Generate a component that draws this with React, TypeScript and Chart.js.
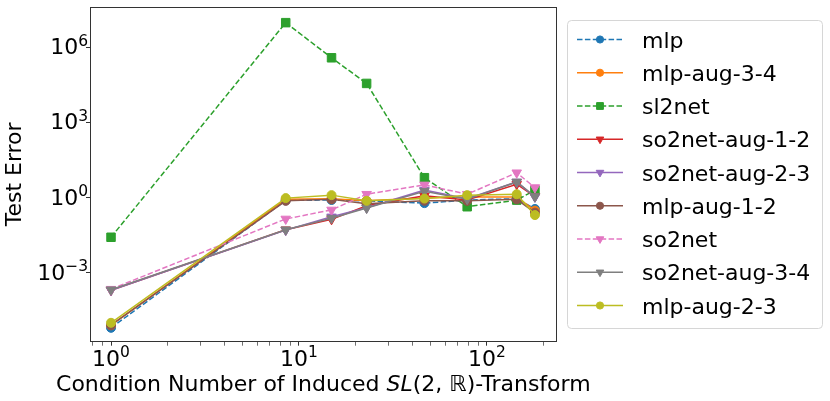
import { useEffect, useRef } from "react"
import { Chart, registerables } from "chart.js"

Chart.register(...registerables)

// condition number of each transform (x)
const conditionNumbers = [1, 8.5, 14.9, 22.9, 46.5, 78.5, 144, 180]

// test error per model (y, log scale)
const mlp = [6.3e-6, 0.77, 0.8, 0.74, 0.6, 0.79, 0.9, 0.35]
const mlpAug34 = [8e-6, 0.85, 0.89, 0.74, 0.97, 1.05, 1.05, 0.3]
const sl2net = [0.026, 9.6e6, 3.8e5, 3.6e4, 6.2, 0.43, 0.79, 1.97]
const so2netAug12 = [2e-4, 0.052, 0.135, 0.47, 1.17, 0.8, 3.4, 1.1]
const so2netAug23 = [2e-4, 0.05, 0.17, 0.39, 2.0, 0.9, 4.2, 1.05]
const mlpAug12 = [8e-6, 0.74, 0.85, 0.56, 0.74, 0.74, 0.85, 0.25]
const so2net = [2.2e-4, 0.14, 0.32, 1.36, 3.2, 1.36, 9.8, 2.5]
const so2netAug34 = [2.1e-4, 0.052, 0.15, 0.38, 1.8, 0.86, 4.2, 1.1]
const mlpAug23 = [1e-5, 0.95, 1.25, 0.74, 0.91, 1.25, 1.36, 0.2]

const yTickValues = [1e-3, 1, 1e3, 1e6]
const xTickValues = [0.8, 0.9, 1, 2, 3, 4, 5, 6, 7, 8, 9, 10, 20, 30, 40, 50, 60, 70, 80, 90, 100, 200]

type Marker = "circle" | "rect" | "triangle"

const series: { label: string; data: number[]; color: string; dashed: boolean; marker: Marker }[] = [
  { label: "mlp", data: mlp, color: "#1f77b4", dashed: true, marker: "circle" },
  { label: "mlp-aug-3-4", data: mlpAug34, color: "#ff7f0e", dashed: false, marker: "circle" },
  { label: "sl2net", data: sl2net, color: "#2ca02c", dashed: true, marker: "rect" },
  { label: "so2net-aug-1-2", data: so2netAug12, color: "#d62728", dashed: false, marker: "triangle" },
  { label: "so2net-aug-2-3", data: so2netAug23, color: "#9467bd", dashed: false, marker: "triangle" },
  { label: "mlp-aug-1-2", data: mlpAug12, color: "#8c564b", dashed: false, marker: "circle" },
  { label: "so2net", data: so2net, color: "#e377c2", dashed: true, marker: "triangle" },
  { label: "so2net-aug-3-4", data: so2netAug34, color: "#7f7f7f", dashed: false, marker: "triangle" },
  { label: "mlp-aug-2-3", data: mlpAug23, color: "#bcbd22", dashed: false, marker: "circle" },
]

const FONT = "DejaVu Sans"
const DASH = [5.5, 2.4]

function powerOf(v: number): number | null {
  const e = Math.log10(v)
  if (Math.abs(e - Math.round(e)) > 1e-9) return null
  return Math.round(e)
}

// draws "10" with a raised exponent, like matplotlib's mathtext
function drawPower(ctx: CanvasRenderingContext2D, exp: number, x: number, baseY: number, align: "right" | "center") {
  const base = "10"
  const sup = exp < 0 ? "\u2212" + String(-exp) : String(exp)
  ctx.font = `22px "${FONT}"`
  const wb = ctx.measureText(base).width
  ctx.font = `15.5px "${FONT}"`
  const ws = ctx.measureText(sup).width
  const total = wb + ws
  const left = align === "right" ? x - total : x - total / 2
  ctx.fillStyle = "#000000"
  ctx.textAlign = "left"
  ctx.textBaseline = "alphabetic"
  ctx.font = `22px "${FONT}"`
  ctx.fillText(base, left, baseY)
  ctx.font = `15.5px "${FONT}"`
  ctx.fillText(sup, left + wb, baseY - 8.5)
}

function markerRadius(m: Marker) {
  if (m === "rect") return 6
  if (m === "triangle") return 5.5
  return 4.5
}

function drawMarker(ctx: CanvasRenderingContext2D, m: Marker, x: number, y: number, r: number, color: string) {
  ctx.save()
  ctx.setLineDash([])
  ctx.fillStyle = color
  ctx.strokeStyle = color
  ctx.lineWidth = 1
  ctx.beginPath()
  if (m === "circle") {
    ctx.arc(x, y, r, 0, Math.PI * 2)
  } else if (m === "rect") {
    const s = r / Math.SQRT2
    ctx.rect(x - s, y - s, 2 * s, 2 * s)
  } else {
    ctx.moveTo(x, y + r)
    ctx.lineTo(x - r * 0.866, y - r * 0.5)
    ctx.lineTo(x + r * 0.866, y - r * 0.5)
    ctx.closePath()
  }
  ctx.fill()
  ctx.stroke()
  ctx.restore()
}

const decorations = {
  id: "decorations",
  afterDraw(chart: Chart) {
    const ctx = chart.ctx
    const a = chart.chartArea
    ctx.save()

    // axes frame
    ctx.strokeStyle = "#333333"
    ctx.lineWidth = 1
    ctx.strokeRect(Math.round(a.left) + 0.5, Math.round(a.top) + 0.5, Math.round(a.right - a.left) - 1, Math.round(a.bottom - a.top) - 1)

    // tick labels
    const xs = chart.scales.x
    const ys = chart.scales.y
    for (const v of xTickValues) {
      const e = powerOf(v)
      if (e === null) continue
      drawPower(ctx, e, xs.getPixelForValue(v), 365.5, "center")
    }
    for (const v of yTickValues) {
      const e = powerOf(v)
      if (e === null) continue
      drawPower(ctx, e, 88, ys.getPixelForValue(v) + 7, "right")
    }

    // x axis title with italic SL
    const parts: [string, string][] = [
      ["Condition Number of Induced ", `22px "${FONT}"`],
      ["SL", `italic 22px "${FONT}"`],
      ["(2, \u211d)-Transform", `22px "${FONT}"`],
    ]
    let total = 0
    for (const [t, f] of parts) {
      ctx.font = f
      total += ctx.measureText(t).width
    }
    let x = (a.left + a.right) / 2 - total / 2
    ctx.fillStyle = "#000000"
    ctx.textBaseline = "alphabetic"
    ctx.textAlign = "left"
    for (const [t, f] of parts) {
      ctx.font = f
      ctx.fillText(t, x, 390.5)
      x += ctx.measureText(t).width
    }

    // legend box
    const bx = 567.5, by = 20.5, bw = 255, bh = 308, rr = 4
    ctx.beginPath()
    ctx.moveTo(bx + rr, by)
    ctx.lineTo(bx + bw - rr, by)
    ctx.quadraticCurveTo(bx + bw, by, bx + bw, by + rr)
    ctx.lineTo(bx + bw, by + bh - rr)
    ctx.quadraticCurveTo(bx + bw, by + bh, bx + bw - rr, by + bh)
    ctx.lineTo(bx + rr, by + bh)
    ctx.quadraticCurveTo(bx, by + bh, bx, by + bh - rr)
    ctx.lineTo(bx, by + rr)
    ctx.quadraticCurveTo(bx, by, bx + rr, by)
    ctx.closePath()
    ctx.fillStyle = "rgba(255,255,255,0.8)"
    ctx.fill()
    ctx.strokeStyle = "#d6d6d6"
    ctx.lineWidth = 1
    ctx.stroke()

    series.forEach((s, i) => {
      const ly = 39.5 + 33.25 * i
      ctx.save()
      ctx.strokeStyle = s.color
      ctx.lineWidth = 1.5
      ctx.setLineDash(s.dashed ? DASH : [])
      ctx.beginPath()
      ctx.moveTo(577, ly)
      ctx.lineTo(623, ly)
      ctx.stroke()
      ctx.restore()
      drawMarker(ctx, s.marker, 600, ly, markerRadius(s.marker) * 0.8, s.color)
      ctx.fillStyle = "#000000"
      ctx.font = `22px "${FONT}"`
      ctx.textBaseline = "alphabetic"
      ctx.textAlign = "left"
      ctx.fillText(s.label, 642, ly + 8)
    })

    ctx.restore()
  },
}

export default function App() {
  const chartRef = useRef<HTMLCanvasElement>(null)
  const chartInstance = useRef<Chart | null>(null)

  useEffect(() => {
    if (!chartRef.current) return
    if (chartInstance.current) chartInstance.current.destroy()

    const datasets = series.map((s, i) => ({
      label: s.label,
      data: conditionNumbers.map((x, j) => ({ x, y: s.data[j] })),
      borderColor: s.color,
      backgroundColor: s.color,
      borderWidth: 1.5,
      borderDash: s.dashed ? DASH : [],
      pointStyle: s.marker,
      pointRotation: s.marker === "triangle" ? 180 : 0,
      pointRadius: markerRadius(s.marker),
      pointBackgroundColor: s.color,
      pointBorderColor: s.color,
      pointBorderWidth: 1,
      tension: 0,
      order: series.length - i,
    }))

    const ctx = chartRef.current.getContext("2d")
    if (!ctx) return
    chartInstance.current = new Chart(ctx, {
      type: "line",
      data: { datasets },
      options: {
        responsive: true,
        maintainAspectRatio: false,
        animation: false,
        events: [],
        layout: { padding: { left: 0, top: 5, right: 273.3, bottom: 0 } },
        plugins: {
          legend: { display: false },
          tooltip: { enabled: false },
        },
        scales: {
          x: {
            type: "logarithmic",
            min: 0.773,
            max: 235,
            afterBuildTicks: (scale: any) => {
              scale.ticks = xTickValues.map((v) => ({ value: v }))
            },
            afterFit: (scale: any) => {
              scale.height = 59.3
            },
            border: { display: false },
            grid: {
              display: true,
              drawOnChartArea: false,
              drawTicks: true,
              tickLength: 4,
              tickColor: "#333333",
              tickWidth: (c: any) => (powerOf(c.tick.value) !== null ? 1 : 0.7),
            },
            ticks: { display: false },
          },
          y: {
            type: "logarithmic",
            min: 1.76e-6,
            max: 4.05e7,
            afterBuildTicks: (scale: any) => {
              scale.ticks = yTickValues.map((v) => ({ value: v }))
            },
            afterFit: (scale: any) => {
              scale.width = 90
            },
            border: { display: false },
            grid: {
              display: true,
              drawOnChartArea: false,
              drawTicks: true,
              tickLength: 4,
              tickColor: "#333333",
            },
            title: {
              display: true,
              text: "Test Error",
              color: "#000000",
              font: { family: FONT, size: 22 },
              padding: { top: 2, bottom: 0 },
            },
            ticks: { display: false },
          },
        },
      },
      plugins: [decorations],
    })

    return () => {
      if (chartInstance.current) {
        chartInstance.current.destroy()
        chartInstance.current = null
      }
    }
  }, [])

  return (
    <div style={{ position: "fixed", left: 0, top: 0, width: 830, height: 401, background: "#ffffff" }}>
      <canvas ref={chartRef} />
    </div>
  )
}
